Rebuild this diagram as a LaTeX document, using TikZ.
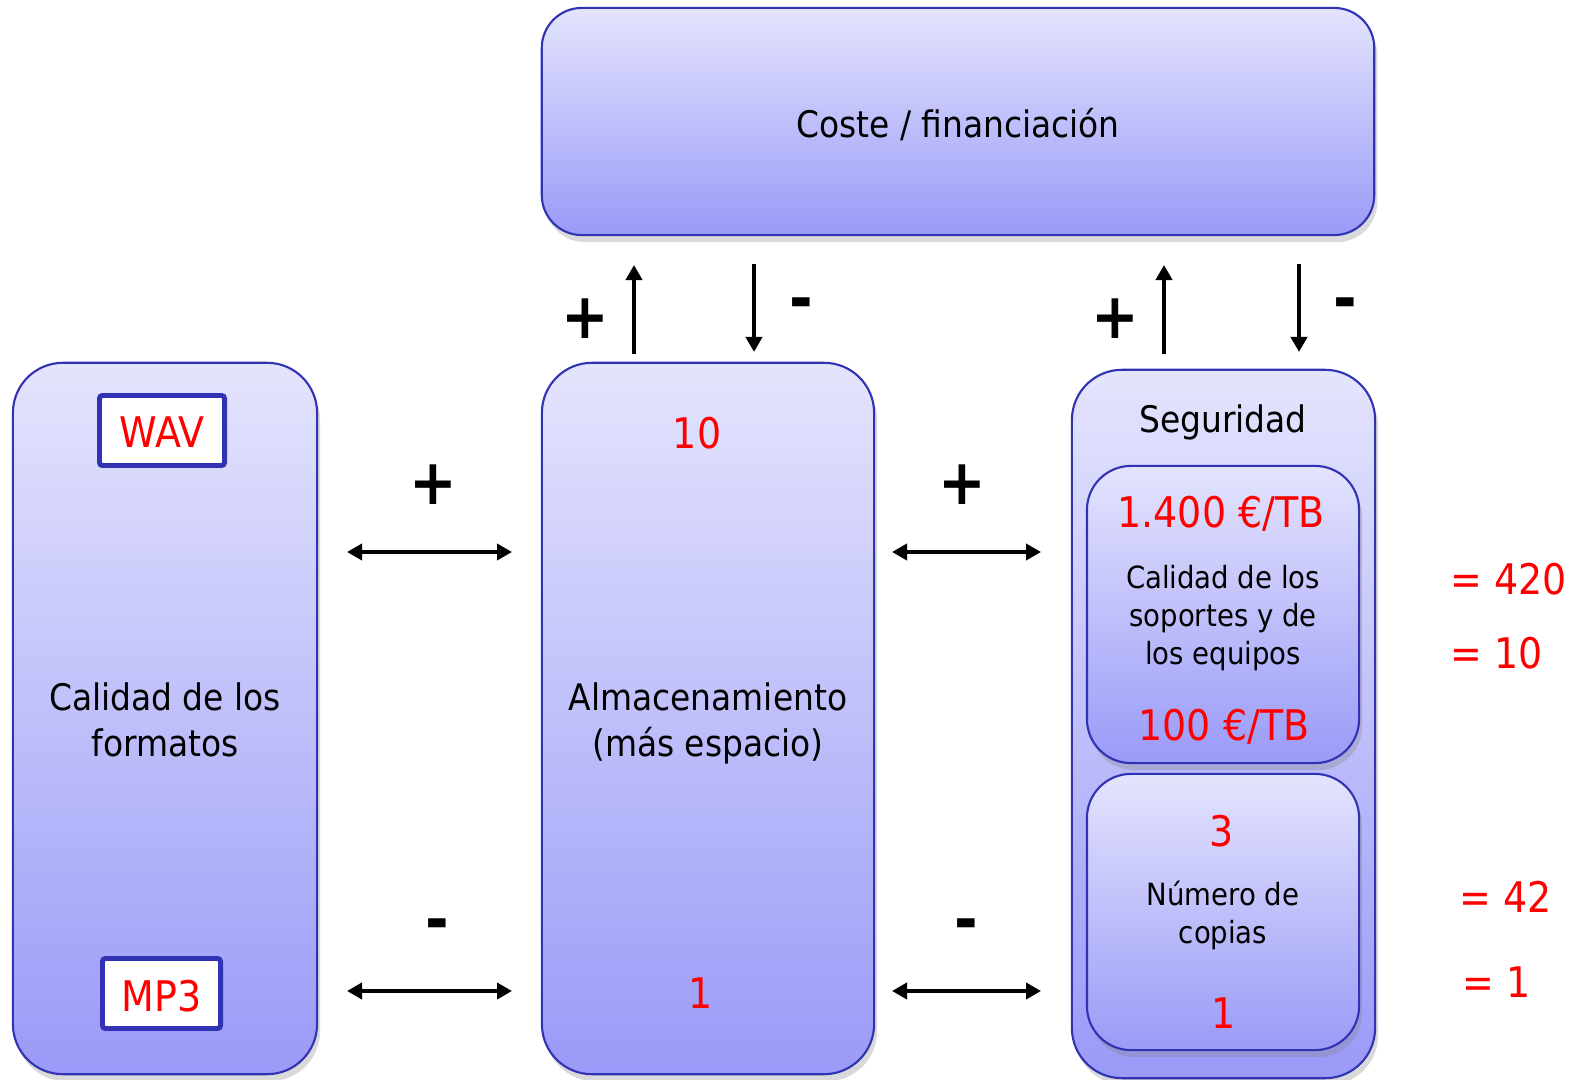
\documentclass[tikz,border=0pt]{standalone}
\usepackage{fontspec}
\setmainfont{DejaVu Sans Condensed}
\usetikzlibrary{shadows,arrows.meta}
\definecolor{boxtop}{HTML}{E4E4FD}
\definecolor{boxbot}{HTML}{9A9AF8}
\definecolor{boxline}{HTML}{3232B4}
\tikzset{
  pbox/.style={draw=boxline, line width=0.6pt, rounded corners=#1,
    top color=boxtop, bottom color=boxbot, inner sep=0pt,
    drop shadow={opacity=0.3, shadow xshift=0.3mm, shadow yshift=-0.7mm}},
  pbox/.default=4.6mm,
  fmtbox/.style={draw=boxline, line width=1.4pt, fill=white, inner sep=0pt, rounded corners=0.3mm},
  maintxt/.style={inner sep=0pt, align=center, font=\fontsize{10.4}{12.9}\selectfont},
  smalltxt/.style={inner sep=0pt, align=center, font=\fontsize{8.7}{10.7}\selectfont},
  redtxt/.style={inner sep=0pt, text=red, font=\fontsize{12}{14}\selectfont},
  signtxt/.style={inner sep=0pt, font=\bfseries\fontsize{18}{20}\selectfont},
  arr/.style={line width=1.2pt, -{Triangle[length=1.5mm,width=1.6mm]}},
  darr/.style={line width=1.2pt, {Triangle[length=1.5mm,width=1.6mm]}-{Triangle[length=1.5mm,width=1.6mm]}},
}
\begin{document}
\begin{tikzpicture}[x=0.01cm,y=-0.01cm]
\useasboundingbox (0,0) rectangle (1583,1080);

% boxes
\node[pbox=4mm, minimum width=83.2mm, minimum height=22.7mm] (cost) at (958,121.5) {};
\node[pbox=5mm, minimum width=30.4mm, minimum height=71.1mm] (fmt) at (165,718.5) {};
\node[pbox=5mm, minimum width=33.2mm, minimum height=71.1mm] (alm) at (708,718.5) {};
\node[pbox=5mm, minimum width=30.3mm, minimum height=70.8mm] (seg) at (1223.5,724) {};
\node[pbox=4.4mm, minimum width=27.2mm, minimum height=29.7mm] (cal) at (1223,614.5) {};
\node[pbox=4.4mm, minimum width=27.2mm, minimum height=27.6mm] (cop) at (1223,912) {};

\node[fmtbox, minimum width=12.5mm, minimum height=7.0mm] (wavbox) at (162,430.5) {};
\node[fmtbox, minimum width=11.8mm, minimum height=7.0mm] (mp3box) at (161.5,993.5) {};

% texts (multi-line nodes: base = baseline of last line)
\node[maintxt, anchor=base] (tcost) at (958,138) {Coste / financiación};
\node[redtxt, anchor=base] (twav) at (162,448) {WAV};
\node[redtxt, anchor=base] (tmp3) at (161.5,1011) {MP3};
\node[maintxt, anchor=base] (tfmt) at (165,756) {Calidad de los\\formatos};
\node[maintxt, anchor=base] (talm) at (708,756) {Almacenamiento\\(más espacio)};
\node[redtxt, anchor=base] (t10) at (697,449) {10};
\node[redtxt, anchor=base] (t1a) at (701,1008) {1};
\node[maintxt, anchor=base] (tseg) at (1223,433) {Seguridad};
\node[redtxt, anchor=base] (t1400) at (1221,528) {1.400 €/TB};
\node[smalltxt, anchor=base] (tcal) at (1223,664) {Calidad de los\\soportes y de\\los equipos};
\node[redtxt, anchor=base] (t100) at (1224,740) {100 €/TB};
\node[redtxt, anchor=base] (t3) at (1222,846) {3};
\node[smalltxt, anchor=base] (tnum) at (1223,943) {Número de\\copias};
\node[redtxt, anchor=base] (t1b) at (1224,1028) {1};

\node[redtxt, anchor=base west] (e420) at (1450,594) {= 420};
\node[redtxt, anchor=base west] (e10) at (1450,669) {= 10};
\node[redtxt, anchor=base west] (e42) at (1459,912) {= 42};
\node[redtxt, anchor=base west] (e1) at (1462,997) {= 1};

% signs
\node[signtxt] (p1) at (585,319) {+};
\node[signtxt] (m1) at (801,309) {-};
\node[signtxt] (p2) at (1115,319) {+};
\node[signtxt] (m2) at (1345,309) {-};
\node[signtxt] (p3) at (433,485) {+};
\node[signtxt] (p4) at (962,485) {+};
\node[signtxt] (m3) at (437,930) {-};
\node[signtxt] (m4) at (966,930) {-};

% arrow end points
\coordinate (u1a) at (634,354); \coordinate (u1b) at (634,265);
\coordinate (d1a) at (754,264); \coordinate (d1b) at (754,352);
\coordinate (u2a) at (1164,354); \coordinate (u2b) at (1164,265);
\coordinate (d2a) at (1299,264); \coordinate (d2b) at (1299,352);
\coordinate (h1a) at (347,552); \coordinate (h1b) at (512,552);
\coordinate (h2a) at (347,991); \coordinate (h2b) at (512,991);
\coordinate (h3a) at (892,552); \coordinate (h3b) at (1041,552);
\coordinate (h4a) at (892,991); \coordinate (h4b) at (1041,991);

\draw[arr] (u1a) -- (u1b);
\draw[arr] (d1a) -- (d1b);
\draw[arr] (u2a) -- (u2b);
\draw[arr] (d2a) -- (d2b);
\draw[darr] (h1a) -- (h1b);
\draw[darr] (h2a) -- (h2b);
\draw[darr] (h3a) -- (h3b);
\draw[darr] (h4a) -- (h4b);
\end{tikzpicture}
\end{document}
